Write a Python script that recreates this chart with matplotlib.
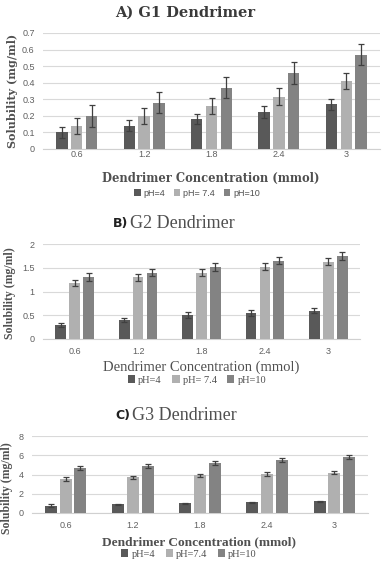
import matplotlib
matplotlib.use("Agg")
import matplotlib.pyplot as plt
import numpy as np
from matplotlib.patches import Patch

categories = ["0.6", "1.2", "1.8", "2.4", "3"]
series_names_A = ["pH=4", "pH= 7.4", "pH=10"]
series_names_B = ["pH=4", "pH= 7.4", "pH=10"]
series_names_C = ["pH=4", "pH=7.4", "pH=10"]

g1_ph4 = [0.10, 0.14, 0.18, 0.225, 0.27]
g1_ph74 = [0.14, 0.20, 0.26, 0.315, 0.41]
g1_ph10 = [0.20, 0.28, 0.37, 0.46, 0.57]
g1_err4 = [0.035, 0.032, 0.032, 0.035, 0.032]
g1_err74 = [0.050, 0.047, 0.048, 0.052, 0.050]
g1_err10 = [0.065, 0.065, 0.065, 0.065, 0.065]

g2_ph4 = [0.30, 0.40, 0.50, 0.55, 0.60]
g2_ph74 = [1.18, 1.30, 1.40, 1.52, 1.63]
g2_ph10 = [1.30, 1.40, 1.52, 1.65, 1.75]
g2_err4 = [0.04, 0.05, 0.06, 0.06, 0.05]
g2_err74 = [0.07, 0.07, 0.07, 0.07, 0.07]
g2_err10 = [0.08, 0.08, 0.08, 0.08, 0.09]

g3_ph4 = [0.75, 0.90, 1.00, 1.10, 1.20]
g3_ph74 = [3.50, 3.70, 3.90, 4.05, 4.20]
g3_ph10 = [4.70, 4.90, 5.20, 5.50, 5.80]
g3_err4 = [0.15, 0.08, 0.07, 0.07, 0.07]
g3_err74 = [0.20, 0.18, 0.18, 0.18, 0.18]
g3_err10 = [0.22, 0.22, 0.22, 0.22, 0.22]

A_ticks = [0, 0.1, 0.2, 0.3, 0.4, 0.5, 0.6, 0.7]
A_ticklabels = ["0", "0.1", "0.2", "0.3", "0.4", "0.5", "0.6", "0.7"]
B_ticks = [0, 0.5, 1, 1.5, 2]
B_ticklabels = ["0", "0.5", "1", "1.5", "2"]
C_ticks = [0, 2, 4, 6, 8]
C_ticklabels = ["0", "2", "4", "6", "8"]

colors = ["#595959", "#b0b0b0", "#838383"]
W, H = 388, 568
fig = plt.figure(figsize=(W / 100, H / 100), dpi=100)
fig.patch.set_facecolor("white")


def box(x0, x1, ytop, ybot):
    return [x0 / W, 1 - ybot / H, (x1 - x0) / W, (ybot - ytop) / H]


def panel(rect, vals, errs, width, ticks, ticklabels, ymax, xpad):
    ax = fig.add_axes(rect)
    x = np.arange(len(categories))
    offs = [-0.22, 0.0, 0.22]
    for v, e, c, o in zip(vals, errs, colors, offs):
        ax.bar(x + o, v, width=width, color=c, zorder=3,
               yerr=e, error_kw=dict(ecolor="#404040", elinewidth=0.9, capsize=2.5, capthick=0.9, zorder=4))
    ax.set_xlim(-0.5, len(categories) - 0.5)
    ax.set_ylim(0, ymax)
    ax.set_yticks(ticks)
    ax.set_yticklabels(ticklabels)
    ax.set_xticks(x)
    ax.set_xticklabels(categories)
    ax.grid(axis="y", color="#d9d9d9", linewidth=0.8, zorder=0)
    for s in ["top", "right", "left"]:
        ax.spines[s].set_visible(False)
    ax.spines["bottom"].set_color("#d0d0d0")
    ax.tick_params(length=0, labelsize=6.5, labelcolor="#606060", pad=6)
    ax.tick_params(axis="x", pad=xpad)
    for lab in ax.get_xticklabels() + ax.get_yticklabels():
        lab.set_family("Liberation Sans")
    ax.set_axisbelow(True)
    return ax


axA = panel(box(43, 380, 33, 149), [g1_ph4, g1_ph74, g1_ph10], [g1_err4, g1_err74, g1_err10],
            0.17, A_ticks, A_ticklabels, 0.7, 1)
axB = panel(box(43, 360, 244, 339), [g2_ph4, g2_ph74, g2_ph10], [g2_err4, g2_err74, g2_err10],
            0.17, B_ticks, B_ticklabels, 2, 6)
axC = panel(box(32, 368, 436, 513), [g3_ph4, g3_ph74, g3_ph10], [g3_err4, g3_err74, g3_err10],
            0.18, C_ticks, C_ticklabels, 8, 6)

slab = dict(family="DejaVu Serif", weight="bold", color="#505050")
serif = dict(family="Liberation Serif", color="#505050")

# Panel A texts
fig.text(185 / W, 1 - 13 / H, "A) G1 Dendrimer", ha="center", va="center", fontsize=10.5,
         family="DejaVu Serif", weight="bold", color="#3a3a3a")
fig.text(13 / W, 1 - 91 / H, "Solubility (mg/ml)", rotation=90, ha="center", va="center", fontsize=8, **slab)
fig.text(211 / W, 1 - 178 / H, "Dendrimer Concentration (mmol)", ha="center", va="center", fontsize=8.3, **slab)

# Panel B texts
fig.text(113 / W, 1 - 223 / H, "B)", ha="left", va="center", fontsize=9,
         family="DejaVu Sans", weight="bold", color="#202020")
fig.text(130 / W, 1 - 223 / H, "G2 Dendrimer", ha="left", va="center", fontsize=13, **serif)
fig.text(10 / W, 1 - 293 / H, "Solubility (mg/ml)", rotation=90, ha="center", va="center", fontsize=8.5,
         family="Liberation Serif", weight="bold", color="#505050")
fig.text(201 / W, 1 - 367 / H, "Dendrimer Concentration (mmol)", ha="center", va="center", fontsize=10.5, **serif)

# Panel C texts
fig.text(115 / W, 1 - 415 / H, "C)", ha="left", va="center", fontsize=9,
         family="DejaVu Sans", weight="bold", color="#202020")
fig.text(132 / W, 1 - 415 / H, "G3 Dendrimer", ha="left", va="center", fontsize=13, **serif)
fig.text(7 / W, 1 - 488 / H, "Solubility (mg/ml)", rotation=90, ha="center", va="center", fontsize=8.5,
         family="Liberation Serif", weight="bold", color="#505050")
fig.text(199 / W, 1 - 542 / H, "Dendrimer Concentration (mmol)", ha="center", va="center", fontsize=9.6,
         family="Liberation Serif", weight="bold", color="#505050")


def legend(names, xc, yc, fam, fs):
    handles = [Patch(facecolor=c, edgecolor="none") for c in colors]
    leg = fig.legend(handles, names, loc="center", bbox_to_anchor=(xc / W, 1 - yc / H), ncol=3, frameon=False,
                     handlelength=0.7, handleheight=0.7, handletextpad=0.3, columnspacing=1.0,
                     prop=dict(family=fam, size=fs))
    for t in leg.get_texts():
        t.set_color("#505050")


legend(series_names_A, 197, 193, "Liberation Sans", 6.5)
legend(series_names_B, 197, 380, "Liberation Serif", 7.5)
legend(series_names_C, 189, 554, "Liberation Serif", 7.5)

fig.savefig("out.png", dpi=100, facecolor="white")
